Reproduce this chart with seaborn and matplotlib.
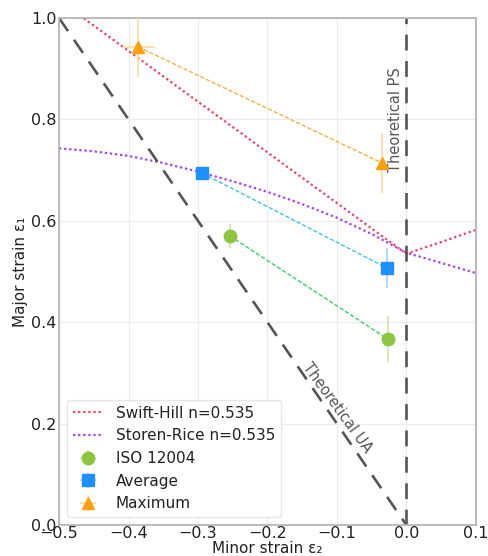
import matplotlib
matplotlib.use("Agg")
import matplotlib.pyplot as plt
from matplotlib.lines import Line2D
import seaborn as sns

# ---- data ----
swift_x = [-0.5, -0.4, -0.3, -0.2, -0.1, 0.0, 0.05, 0.1]
swift_y = [1.035, 0.935, 0.835, 0.735, 0.635, 0.535, 0.558, 0.582]

storen_x = [-0.5, -0.45, -0.4, -0.35, -0.3, -0.25, -0.2, -0.15, -0.1, -0.05, 0.0, 0.05, 0.1]
storen_y = [0.743, 0.737, 0.728, 0.714, 0.697, 0.678, 0.657, 0.633, 0.606, 0.574, 0.537, 0.517, 0.497]

ua_x = [-0.5, 0.0]
ua_y = [1.0, 0.0]

iso_x = [-0.254, -0.027]
iso_y = [0.570, 0.367]
iso_xerr = [0.004, 0.003]
iso_yerr = [0.023, 0.045]

avg_x = [-0.294, -0.028]
avg_y = [0.694, 0.507]
avg_xerr = [0.004, 0.003]
avg_yerr = [0.006, 0.039]

max_x = [-0.386, -0.035]
max_y = [0.943, 0.714]
max_xerr = [0.024, 0.003]
max_yerr = [0.060, 0.060]

xticks = [-0.5, -0.4, -0.3, -0.2, -0.1, 0.0, 0.1]
yticks = [0.0, 0.2, 0.4, 0.6, 0.8, 1.0]

sns.set_theme(style="whitegrid")
plt.rcParams['font.family'] = ['DejaVu Sans']

fig = plt.figure(figsize=(4.88, 5.56), dpi=100)
ax = fig.add_axes([0.121, 0.0558, 0.854, 0.9118])

c_swift = "#f0405e"
c_storen = "#b03cf0"
c_iso = "#8cc63f"
c_avg = "#1e8fff"
c_max = "#ffa010"

# theory curves
sns.lineplot(x=swift_x, y=swift_y, ax=ax, color=c_swift, lw=1.6, ls=(0, (1, 1.3)), sort=False)
sns.lineplot(x=storen_x, y=storen_y, ax=ax, color=c_storen, lw=1.6, ls=(0, (1, 1.3)), sort=False)

# theoretical UA / PS
sns.lineplot(x=ua_x, y=ua_y, ax=ax, color="#555555", lw=1.9, ls=(0, (6, 4)), sort=False)
ax.axvline(0.0, color="#555555", lw=1.9, ls=(0, (6, 4)))

# connecting dashed lines
sns.lineplot(x=iso_x, y=iso_y, ax=ax, color="#3ccf6a", lw=1.0, ls=(0, (3, 1.5)), sort=False)
sns.lineplot(x=avg_x, y=avg_y, ax=ax, color="#3cc4e6", lw=1.0, ls=(0, (3, 1.5)), sort=False)
sns.lineplot(x=max_x, y=max_y, ax=ax, color="#f5b040", lw=1.0, ls=(0, (3, 1.5)), sort=False)

# data points with error bars
e_iso = ax.errorbar(iso_x, iso_y, xerr=iso_xerr, yerr=iso_yerr, fmt='o', color=c_iso,
                    ms=9, ecolor="#cde6a8", elinewidth=1.2, zorder=5)
e_avg = ax.errorbar(avg_x, avg_y, xerr=avg_xerr, yerr=avg_yerr, fmt='s', color=c_avg,
                    ms=8.5, ecolor="#a8d0ff", elinewidth=1.2, zorder=5)
e_max = ax.errorbar(max_x, max_y, xerr=max_xerr, yerr=max_yerr, fmt='^', color=c_max,
                    ms=9, ecolor="#ffd9a0", elinewidth=1.2, zorder=5)

ax.text(-0.1, 0.231, "Theoretical UA", rotation=-54, ha="center", va="center",
        fontsize=10.5, color="#555555", rotation_mode="anchor")
ax.text(-0.016, 0.80, "Theoretical PS", rotation=90, ha="center", va="center",
        fontsize=10.5, color="#555555")

ax.set_xlim(-0.5, 0.1)
ax.set_ylim(0.0, 1.0)
ax.set_xticks(xticks)
ax.set_yticks(yticks)
ax.set_xticklabels([f"{t:.1f}".replace("-", "\u2212") for t in xticks], fontsize=11.5, color="#222222")
ax.set_yticklabels([f"{t:.1f}" for t in yticks], fontsize=11.5, color="#222222")
ax.tick_params(axis="x", length=0, pad=0.5)
ax.tick_params(axis="y", length=0, pad=2)
ax.set_xlabel("Minor strain \u03b5\u2082", fontsize=11, color="#222222", labelpad=0)
ax.set_ylabel("Major strain \u03b5\u2081", fontsize=11, color="#222222", labelpad=2)
ax.grid(True, color="#ebebeb", lw=0.8)
for s in ax.spines.values():
    s.set_color("#b5b5b5")
    s.set_linewidth(1.3)

handles = [
    Line2D([], [], color=c_swift, lw=1.6, ls=(0, (1, 1.3))),
    Line2D([], [], color=c_storen, lw=1.6, ls=(0, (1, 1.3))),
    e_iso, e_avg, e_max,
]
labels = ["Swift-Hill n=0.535", "Storen-Rice n=0.535", "ISO 12004", "Average", "Maximum"]
leg = ax.legend(handles, labels, loc="lower left", fontsize=11, frameon=True,
                framealpha=1, edgecolor="#e6e6e6", labelspacing=0.5)
for t in leg.get_texts():
    t.set_color("#222222")

fig.savefig("out.png", dpi=100)
